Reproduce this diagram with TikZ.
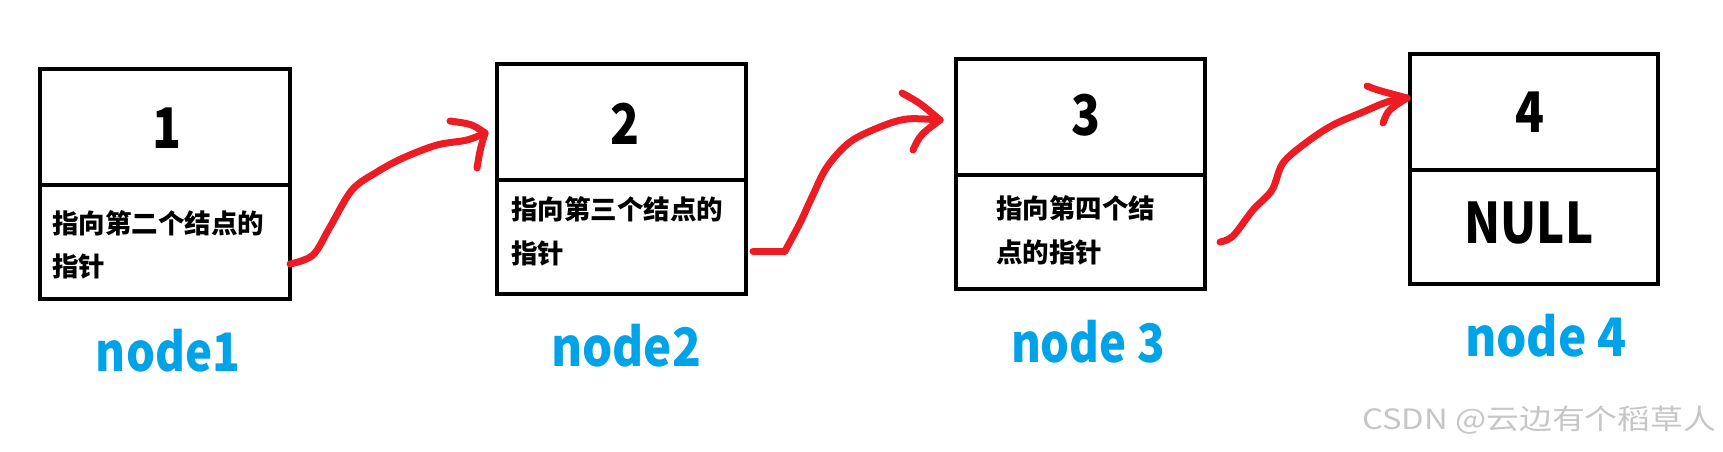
\documentclass[tikz,border=0pt]{standalone}
\usepackage{fontspec}
\usepackage{graphicx}
\setmainfont{Noto Sans CJK SC}
\definecolor{penred}{RGB}{237,28,36}
\definecolor{labelblue}{RGB}{0,162,232}
\definecolor{wmgray}{RGB}{198,198,198}
\newcommand{\fitw}[2]{\resizebox{#1}{\height}{#2}}
\begin{document}
\begin{tikzpicture}[x=1pt,y=-1pt,
  cell/.style={draw,line width=4pt,minimum height=230pt,inner sep=0pt,outer sep=0pt},
  divider/.style={line width=4pt},
  digit/.style={inner sep=0pt,font=\bfseries\fontsize{56}{60}\selectfont},
  ptrtext/.style={inner sep=0pt,anchor=base west,font=\bfseries\fontsize{26.5}{30}\selectfont},
  caption/.style={inner sep=0pt,text=labelblue,font=\bfseries\fontsize{53}{58}\selectfont},
  pen/.style={draw=penred,line width=7pt,line cap=round,line join=round},
  watermark/.style={inner sep=0pt,anchor=base west,text=wmgray,font=\fontsize{28}{30}\selectfont}]
\useasboundingbox[fill=white] (0,0) rectangle (1723,451);

% boxes
\node[cell,minimum width=250pt] (b1) at (165,184) {};
\node[cell,minimum width=249pt] (b2) at (621.5,179) {};
\node[cell,minimum width=249pt] (b3) at (1080.5,174) {};
\node[cell,minimum width=248pt] (b4) at (1534,169) {};
\foreach \b in {b1,b2,b3,b4}{
  \draw[divider] ([yshift=-116pt]\b.north west) -- ([yshift=-116pt]\b.north east);
}

% values
\node[digit] (v1) at (167,128) {\scalebox{0.85}[1]{1}};
\node[digit] (v2) at (625,124) {\scalebox{0.85}[1]{2}};
\node[digit] (v3) at (1085.5,115) {\scalebox{0.85}[1]{3}};
\node[digit] (v4) at (1530,112) {\scalebox{0.85}[1]{4}};
\node[digit] (null) at (1529,223.5) {\fitw{129pt}{NULL}};

% pointer texts
\node[ptrtext] (p1a) at (52,233) {指向第二个结点的};
\node[ptrtext] (p1b) at (52,276) {指针};
\node[ptrtext] (p2a) at (511,219) {指向第三个结点的};
\node[ptrtext] (p2b) at (511,263) {指针};
\node[ptrtext] (p3a) at (996,218) {指向第四个结};
\node[ptrtext] (p3b) at (996,262) {点的指针};

% captions
\node[caption] (c1) at (168,351) {\fitw{144pt}{node1}};
\node[caption] (c2) at (626,346) {\fitw{150pt}{node2}};
\node[caption] (c3) at (1088,342) {\fitw{154pt}{node 3}};
\node[caption] (c4) at (1546,335.5) {\fitw{162pt}{node 4}};

% arrows (hand drawn)
\coordinate (a1s) at (290,264);
\coordinate (a1e) at (485,133);
\coordinate (a2s) at (753,251);
\coordinate (a2e) at (940,120);
\coordinate (a3s) at (1220,242);
\coordinate (a3e) at (1407,98);

\draw[pen] plot[smooth,tension=0.55] coordinates {(a1s) (313,255) (330,227) (352,190) (377,172) (403,158) (437,145) (467,140) (a1e)};
\draw[pen] (a1e) .. controls (472,124) .. (450,121);
\draw[pen] (a1e) .. controls (480,150) .. (477,168);

\draw[pen] (a2s) -- (785,251);
\draw[pen] plot[smooth,tension=0.55] coordinates {(785,251) (800,223) (812,197) (827,167) (850,142) (880,127) (907,119) (a2e)};
\draw[pen] (a2e) .. controls (920,103) .. (902,93);
\draw[pen] (a2e) .. controls (920,135) .. (913,150);

\draw[pen] plot[smooth,tension=0.55] coordinates {(a3s) (1233,236) (1253,210) (1272,190) (1283,163) (1307,142) (1333,125) (1363,112) (1387,102) (a3e)};
\draw[pen] (a3e) .. controls (1377,90) .. (1367,86);
\draw[pen] (a3e) .. controls (1388,110) .. (1383,123);

% watermark
\node[watermark] (wm) at (1362,429) {\fitw{354pt}{CSDN @云边有个稻草人}};
\end{tikzpicture}
\end{document}
